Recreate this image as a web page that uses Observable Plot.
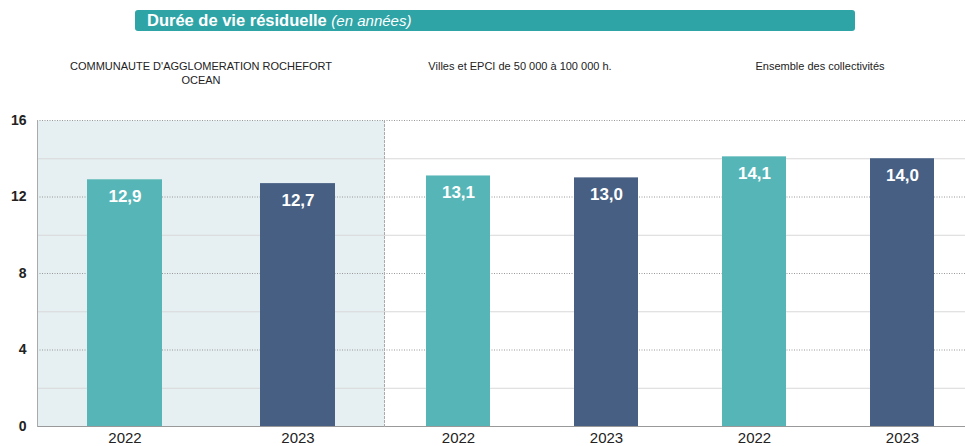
<!DOCTYPE html>
<html>
<head>
<meta charset="utf-8">
<script src="https://cdn.jsdelivr.net/npm/d3@7"></script>
<script src="https://cdn.jsdelivr.net/npm/@observablehq/plot@0.6"></script>
<style>
  html, body { margin: 0; padding: 0; background: #fff; }
  body { width: 965px; height: 446px; position: relative; overflow: hidden; font-family: "Liberation Sans", Arial, sans-serif; }
  #title { position: absolute; left: 135px; top: 10px; width: 720px; height: 21px; background: #2ea4a6; border-radius: 3px; color: #fff; box-sizing: border-box; padding-left: 12px; line-height: 21px; font-size: 16.5px; font-weight: bold; }
  #title i { font-weight: normal; font-size: 15px; }
  .grp { position: absolute; top: 59px; font-family: "Liberation Sans", Arial, sans-serif; font-size: 11px; color: #222; text-align: center; line-height: 14px; transform: translateX(-50%); white-space: nowrap; }
  #charts { position: absolute; left: 0; top: 100px; display: flex; width: 965px; overflow: hidden; }
  #charts svg { flex-shrink: 0; max-width: none; }
</style>
</head>
<body>
<div id="title">Durée de vie résiduelle <i>(en années)</i></div>
<div class="grp" style="left:201px">COMMUNAUTE D'AGGLOMERATION ROCHEFORT<br>OCEAN</div>
<div class="grp" style="left:520px">Villes et EPCI de 50 000 à 100 000 h.</div>
<div class="grp" style="left:820px">Ensemble des collectivités</div>
<div id="charts"></div>
<script>
const groups = ["CA Rochefort Océan", "Villes et EPCI 50-100k", "Ensemble"];
const years = ["2022", "2023"];
const values2022 = [12.9, 13.1, 14.1];
const values2023 = [12.7, 13.0, 14.0];
const majorTicks = [0, 4, 8, 12, 16];
const minorTicks = [2, 6, 10, 14];
const colors = {"2022": "#56b6b7", "2023": "#465f83"};

const rows = [];
groups.forEach((g, i) => {
  rows.push({group: i, year: "2022", key: i + "|2022", value: values2022[i]});
  rows.push({group: i, year: "2023", key: i + "|2023", value: values2023[i]});
});
const fmt = v => d3.format(".1f")(v).replace(".", ",");

function marks(data, isLeft) {
  return [
    isLeft ? Plot.frame({fill: "#e6eff1", stroke: null}) : null,
    Plot.ruleY(minorTicks, {stroke: "#d8d8d8", strokeWidth: 1}),
    Plot.ruleY(majorTicks.filter(d => d > 0), {stroke: "#999", strokeDasharray: "1,1.5", strokeWidth: 1}),
    Plot.barY(data, {x: "key", y: "value", fill: d => colors[d.year]}),
    Plot.text(data, {x: "key", y: "value", text: d => fmt(d.value), dy: 17, fill: "white", fontSize: 17, fontWeight: "bold"}),
    Plot.ruleY([0], {stroke: "#999", strokeWidth: 1.2}),
    isLeft ? Plot.frame({anchor: "left", stroke: "#aaa"}) : Plot.frame({anchor: "left", stroke: "#aaa", strokeDasharray: "2,2"}),
    Plot.axisX({tickSize: 0, tickPadding: 6, fontSize: 15, tickFormat: k => k.split("|")[1], fill: "#222"}),
    isLeft ? Plot.axisY({ticks: majorTicks, tickSize: 0, tickPadding: 11, fontSize: 14, fontWeight: "bold", fill: "#222", label: null}) : null
  ];
}

const left = Plot.plot({
  width: 384, height: 346,
  marginLeft: 37, marginRight: 0, marginTop: 20, marginBottom: 20,
  style: {fontFamily: "Liberation Sans, Arial, sans-serif", background: "transparent", overflow: "visible"},
  x: {domain: rows.filter(d => d.group === 0).map(d => d.key), paddingInner: 0.569, paddingOuter: 0.2845, label: null},
  y: {domain: [0, 16], label: null},
  marks: marks(rows.filter(d => d.group === 0), true)
});

const right = Plot.plot({
  width: 581, height: 346,
  marginLeft: 0, marginRight: 0, marginTop: 20, marginBottom: 20,
  style: {fontFamily: "Liberation Sans, Arial, sans-serif", background: "transparent"},
  x: {domain: rows.filter(d => d.group > 0).map(d => d.key), range: [0, 592], paddingInner: 0.5676, paddingOuter: 0.2838, label: null},
  y: {domain: [0, 16], label: null, axis: null},
  marks: marks(rows.filter(d => d.group > 0), false)
});

document.getElementById("charts").append(left, right);
</script>
</body>
</html>
